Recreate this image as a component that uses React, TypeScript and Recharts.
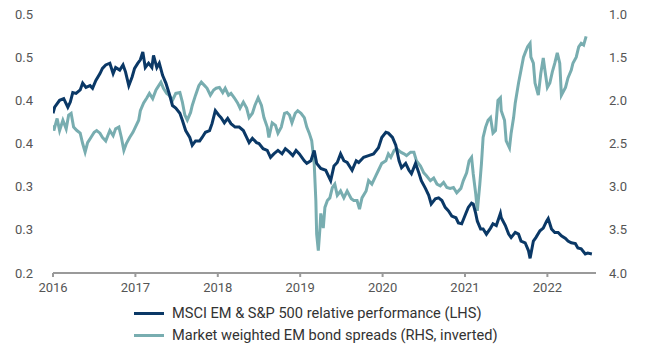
import React from "react";
import { LineChart, Line, XAxis, YAxis } from "recharts";

// MSCI EM & S&P 500 relative performance (LHS) — [decimal year, value]
const MSCI_T = [
  2016.0, 2016.02, 2016.08, 2016.13, 2016.18, 2016.21, 2016.24, 2016.28, 2016.33, 2016.36,
  2016.4, 2016.45, 2016.48, 2016.52, 2016.57, 2016.6, 2016.64, 2016.69, 2016.73, 2016.76,
  2016.81, 2016.85, 2016.88, 2016.92, 2016.96, 2016.99, 2017.03, 2017.06, 2017.09, 2017.12,
  2017.16, 2017.2, 2017.22, 2017.26, 2017.29, 2017.33, 2017.37, 2017.41, 2017.45, 2017.49,
  2017.54, 2017.57, 2017.61, 2017.66, 2017.69, 2017.73, 2017.78, 2017.81, 2017.85, 2017.9,
  2017.93, 2017.97, 2018.01, 2018.04, 2018.08, 2018.12, 2018.16, 2018.21, 2018.26, 2018.31,
  2018.35, 2018.38, 2018.42, 2018.47, 2018.5, 2018.55, 2018.6, 2018.64, 2018.68, 2018.73,
  2018.78, 2018.82, 2018.87, 2018.91, 2018.95, 2018.99, 2019.05, 2019.08, 2019.13, 2019.17,
  2019.2, 2019.25, 2019.31, 2019.37, 2019.41, 2019.45, 2019.49, 2019.53, 2019.57, 2019.63,
  2019.68, 2019.71, 2019.77, 2019.83, 2019.89, 2019.95, 2019.99, 2020.04, 2020.07, 2020.12,
  2020.16, 2020.2, 2020.23, 2020.28, 2020.32, 2020.35, 2020.4, 2020.44, 2020.47, 2020.52,
  2020.56, 2020.59, 2020.64, 2020.68, 2020.72, 2020.76, 2020.8, 2020.84, 2020.89, 2020.92,
  2020.96, 2021.01, 2021.04, 2021.08, 2021.1, 2021.13, 2021.15, 2021.19, 2021.22, 2021.26,
  2021.31, 2021.34, 2021.38, 2021.43, 2021.44, 2021.49, 2021.53, 2021.56, 2021.61, 2021.65,
  2021.68, 2021.73, 2021.77, 2021.79, 2021.83, 2021.86, 2021.91, 2021.95, 2021.99, 2022.01,
  2022.05, 2022.09, 2022.13, 2022.17, 2022.22, 2022.25, 2022.29, 2022.34, 2022.37, 2022.41,
  2022.46, 2022.49, 2022.54,
];
const MSCI_V = [
  0.385, 0.392, 0.4, 0.402, 0.392, 0.398, 0.409, 0.408, 0.412, 0.42,
  0.415, 0.417, 0.414, 0.423, 0.431, 0.437, 0.441, 0.443, 0.431, 0.438,
  0.435, 0.441, 0.433, 0.417, 0.427, 0.437, 0.443, 0.447, 0.456, 0.438,
  0.443, 0.438, 0.452, 0.438, 0.443, 0.429, 0.42, 0.408, 0.394, 0.391,
  0.385, 0.377, 0.365, 0.357, 0.348, 0.353, 0.353, 0.357, 0.363, 0.365,
  0.373, 0.388, 0.383, 0.38, 0.374, 0.379, 0.373, 0.369, 0.369, 0.365,
  0.357, 0.351, 0.356, 0.351, 0.35, 0.344, 0.342, 0.334, 0.338, 0.342,
  0.338, 0.344, 0.34, 0.336, 0.342, 0.338, 0.33, 0.327, 0.33, 0.342,
  0.327, 0.321, 0.319, 0.307, 0.324, 0.328, 0.338, 0.33, 0.328, 0.319,
  0.33, 0.328, 0.334, 0.336, 0.338, 0.345, 0.357, 0.363, 0.362, 0.357,
  0.348, 0.33, 0.322, 0.327, 0.319, 0.315, 0.327, 0.316, 0.307, 0.298,
  0.29, 0.28, 0.286, 0.287, 0.284, 0.276, 0.272, 0.266, 0.264, 0.258,
  0.257, 0.269, 0.276, 0.281, 0.28, 0.269, 0.26, 0.251, 0.251, 0.245,
  0.252, 0.257, 0.255, 0.269, 0.264, 0.255, 0.245, 0.241, 0.247, 0.245,
  0.237, 0.235, 0.226, 0.217, 0.237, 0.241, 0.249, 0.252, 0.26, 0.263,
  0.251, 0.247, 0.247, 0.243, 0.24, 0.237, 0.235, 0.234, 0.229, 0.228,
  0.222, 0.223, 0.222,
];

// Market weighted EM bond spreads (RHS, inverted)
const SPREAD_T = [
  2016.0, 2016.01, 2016.05, 2016.08, 2016.12, 2016.16, 2016.19, 2016.22, 2016.25, 2016.29,
  2016.33, 2016.36, 2016.39, 2016.42, 2016.46, 2016.5, 2016.53, 2016.57, 2016.6, 2016.64,
  2016.69, 2016.73, 2016.76, 2016.8, 2016.83, 2016.86, 2016.89, 2016.93, 2016.97, 2017.0,
  2017.04, 2017.06, 2017.1, 2017.14, 2017.17, 2017.21, 2017.25, 2017.27, 2017.31, 2017.34,
  2017.38, 2017.41, 2017.45, 2017.49, 2017.54, 2017.57, 2017.6, 2017.63, 2017.67, 2017.69,
  2017.73, 2017.77, 2017.8, 2017.84, 2017.87, 2017.91, 2017.95, 2017.98, 2018.02, 2018.06,
  2018.09, 2018.13, 2018.16, 2018.2, 2018.24, 2018.27, 2018.31, 2018.35, 2018.38, 2018.42,
  2018.45, 2018.49, 2018.53, 2018.56, 2018.6, 2018.62, 2018.66, 2018.7, 2018.73, 2018.77,
  2018.81, 2018.84, 2018.87, 2018.9, 2018.94, 2018.97, 2019.01, 2019.05, 2019.08, 2019.11,
  2019.14, 2019.17, 2019.19, 2019.2, 2019.22, 2019.24, 2019.25, 2019.28, 2019.3, 2019.33,
  2019.36, 2019.39, 2019.42, 2019.45, 2019.49, 2019.53, 2019.57, 2019.62, 2019.65, 2019.69,
  2019.72, 2019.75, 2019.8, 2019.83, 2019.87, 2019.92, 2019.95, 2019.99, 2020.04, 2020.07,
  2020.1, 2020.14, 2020.17, 2020.22, 2020.26, 2020.29, 2020.34, 2020.38, 2020.41, 2020.46,
  2020.5, 2020.53, 2020.58, 2020.62, 2020.66, 2020.7, 2020.74, 2020.78, 2020.82, 2020.86,
  2020.9, 2020.95, 2020.98, 2021.02, 2021.05, 2021.08, 2021.1, 2021.13, 2021.15, 2021.18,
  2021.2, 2021.22, 2021.25, 2021.28, 2021.31, 2021.34, 2021.37, 2021.4, 2021.43, 2021.44,
  2021.48, 2021.5, 2021.54, 2021.56, 2021.59, 2021.61, 2021.65, 2021.68, 2021.71, 2021.73,
  2021.76, 2021.79, 2021.8, 2021.83, 2021.85, 2021.89, 2021.92, 2021.95, 2021.97, 2022.0,
  2022.03, 2022.06, 2022.09, 2022.12, 2022.15, 2022.17, 2022.22, 2022.25, 2022.29, 2022.31,
  2022.35, 2022.38, 2022.41, 2022.44, 2022.47,
];
const SPREAD_V = [
  2.29, 2.35, 2.21, 2.35, 2.23, 2.33, 2.17, 2.15, 2.31, 2.35,
  2.38, 2.5, 2.6, 2.49, 2.43, 2.37, 2.35, 2.38, 2.43, 2.47,
  2.35, 2.41, 2.33, 2.31, 2.43, 2.58, 2.5, 2.43, 2.37, 2.31,
  2.23, 2.12, 2.03, 1.97, 1.92, 1.98, 1.88, 1.85, 1.79, 1.86,
  1.92, 1.94, 2.0, 1.92, 1.91, 2.02, 2.17, 2.23, 2.14, 2.06,
  1.94, 1.83, 1.79, 1.83, 1.86, 1.94, 1.88, 1.86, 1.85, 1.91,
  1.86, 1.94, 1.92, 1.97, 2.03, 2.09, 2.02, 2.09, 2.2, 2.15,
  2.06, 1.97, 2.06, 2.2, 2.31, 2.43, 2.26, 2.29, 2.38, 2.31,
  2.15, 2.14, 2.17, 2.26, 2.15, 2.12, 2.15, 2.2, 2.31, 2.38,
  2.47, 2.73, 3.16, 3.55, 3.74, 3.48, 3.31, 3.48, 3.24, 3.16,
  3.13, 3.01, 2.97, 3.1, 3.05, 3.13, 3.05, 3.14, 3.16, 3.16,
  3.26, 3.13, 3.05, 2.93, 2.97, 2.87, 2.81, 2.73, 2.7, 2.62,
  2.66, 2.58, 2.56, 2.6, 2.62, 2.64, 2.6, 2.6, 2.7, 2.76,
  2.84, 2.87, 2.93, 2.9, 2.97, 2.99, 2.95, 3.01, 3.02, 3.01,
  3.07, 3.02, 2.93, 2.84, 2.7, 2.66, 2.85, 3.08, 3.28, 2.97,
  2.73, 2.43, 2.31, 2.23, 2.2, 2.38, 2.35, 2.0, 1.97, 2.12,
  2.23, 2.47, 2.55, 2.38, 2.2, 2.03, 1.8, 1.65, 1.5, 1.45,
  1.38, 1.34, 1.5, 1.57, 1.8, 1.94, 1.69, 1.51, 1.65, 1.85,
  1.8, 1.67, 1.57, 1.45, 1.57, 1.94, 1.85, 1.74, 1.65, 1.57,
  1.5, 1.38, 1.34, 1.36, 1.26,
];

const YEARS = [2016, 2017, 2018, 2019, 2020, 2021, 2022];
const LEFT_TICKS = [0.2, 0.25, 0.3, 0.35, 0.4, 0.45, 0.5];
const LEFT_LABELS = ["0.2", "0.3", "0.3", "0.4", "0.4", "0.5", "0.5"];
const RIGHT_TICKS = [1, 1.5, 2, 2.5, 3, 3.5, 4];

const NAVY = "#0a3866";
const TEAL = "#78adb0";
const FONT = "Roboto, 'Liberation Sans', sans-serif";

const msciData = MSCI_T.map((t, i) => ({ t, v: MSCI_V[i] }));
const spreadData = SPREAD_T.map((t, i) => ({ t, v: SPREAD_V[i] }));

const tickStyle = { fontSize: 13, fill: "#555", fontFamily: FONT };

export default function App() {
  return (
    <div style={{ position: "absolute", left: 0, top: 0, width: 650, height: 350, background: "#fff" }}>
      <LineChart width={650} height={350} margin={{ top: 14, right: 0, bottom: 47, left: 0 }}>
        <XAxis
          dataKey="t"
          type="number"
          domain={[2016, 2022.59]}
          ticks={YEARS}
          allowDataOverflow
          height={30}
          tick={tickStyle}
          stroke="#9a9a9a"
          strokeWidth={2}
          tickSize={4}
          tickMargin={6}
        />
        <YAxis
          yAxisId="left"
          domain={[0.2, 0.5]}
          ticks={LEFT_TICKS}
          tickFormatter={(v, i) => LEFT_LABELS[i] ?? String(v)}
          width={53}
          axisLine={false}
          tickLine={false}
          tickSize={0}
          tickMargin={20}
          tick={tickStyle}
        />
        <YAxis
          yAxisId="right"
          orientation="right"
          reversed
          domain={[1, 4]}
          ticks={RIGHT_TICKS}
          tickFormatter={(v) => Number(v).toFixed(1)}
          width={54}
          axisLine={false}
          tickLine={false}
          tickSize={0}
          tickMargin={13}
          tick={tickStyle}
        />
        <Line
          yAxisId="right"
          data={spreadData}
          dataKey="v"
          stroke={TEAL}
          strokeWidth={3}
          dot={false}
          isAnimationActive={false}
        />
        <Line
          yAxisId="left"
          data={msciData}
          dataKey="v"
          stroke={NAVY}
          strokeWidth={3}
          dot={false}
          isAnimationActive={false}
        />
      </LineChart>

      {/* legend */}
      <div style={{ position: "absolute", left: 134, top: 302, fontFamily: FONT, fontSize: 14.6, color: "#333" }}>
        <div style={{ display: "flex", alignItems: "center", height: 22 }}>
          <span style={{ width: 30, height: 3, background: NAVY, marginRight: 8 }} />
          MSCI EM &amp; S&amp;P 500 relative performance (LHS)
        </div>
        <div style={{ display: "flex", alignItems: "center", height: 22 }}>
          <span style={{ width: 30, height: 3, background: TEAL, marginRight: 8 }} />
          Market weighted EM bond spreads (RHS, inverted)
        </div>
      </div>
    </div>
  );
}
